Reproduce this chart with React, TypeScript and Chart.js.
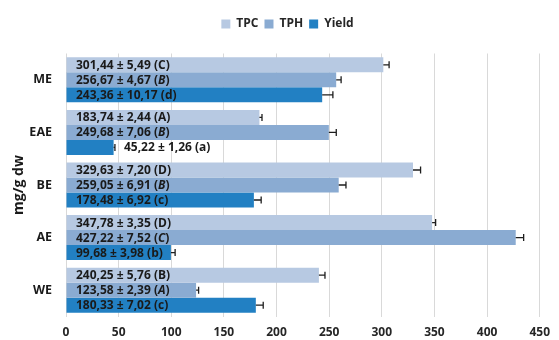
import React, { useEffect, useRef } from 'react';
import { Chart, registerables } from 'chart.js';

Chart.register(...registerables);

const categories = ['ME', 'EAE', 'BE', 'AE', 'WE'];

const tpcValues = [301.44, 183.74, 329.63, 347.78, 240.25];
const tpcErrors = [5.49, 2.44, 7.2, 3.35, 5.76];
const tpcLetters = ['C', 'A', 'D', 'D', 'B'];

const tphValues = [256.67, 249.68, 259.05, 427.22, 123.58];
const tphErrors = [4.67, 7.06, 6.91, 7.52, 2.39];
const tphLetters = ['B', 'B', 'B', 'C', 'A'];

const yieldValues = [243.36, 45.22, 178.48, 99.68, 180.33];
const yieldErrors = [10.17, 1.26, 6.92, 3.98, 7.02];
const yieldLetters = ['d', 'a', 'c', 'b', 'c'];

const seriesNames = ['TPC', 'TPH', 'Yield'];
const seriesColors = ['#b7c9e2', '#8aabd2', '#2280c3'];
const seriesItalicLetter = [false, true, false];

const xMin = 0;
const xMax = 450;
const xStep = 50;

const FONT = '"Open Sans"';
const errorsBySeries = [tpcErrors, tphErrors, yieldErrors];
const lettersBySeries = [tpcLetters, tphLetters, yieldLetters];

const fmt = (v: number) => v.toFixed(2).replace('.', ',');

const legendHeightPlugin = {
  id: 'legendHeight',
  beforeLayout(chart: any) {
    const lg = chart.legend;
    if (lg && !lg.__patched) {
      const orig = lg.fit;
      lg.fit = function () {
        orig.call(this);
        this.height = 41.5;
      };
      lg.__patched = true;
    }
  },
  afterLayout(chart: any) {
    const lg = chart.legend;
    if (lg) {
      lg.left += 9;
      lg.right += 9;
    }
  },
};

const errorLabelPlugin = {
  id: 'errorLabels',
  afterDatasetsDraw(chart: any) {
    const ctx = chart.ctx;
    const xs = chart.scales.x;
    const zero = xs.getPixelForValue(0);
    chart.data.datasets.forEach((ds: any, di: number) => {
      const meta = chart.getDatasetMeta(di);
      meta.data.forEach((bar: any, i: number) => {
        const v = ds.data[i] as number;
        const e = errorsBySeries[di][i];
        const x0 = bar.x;
        const x1 = xs.getPixelForValue(v + e);
        const y = bar.y;
        ctx.save();
        ctx.strokeStyle = '#1e1e1e';
        ctx.lineWidth = 1.3;
        ctx.beginPath();
        ctx.moveTo(x0, y);
        ctx.lineTo(x1, y);
        ctx.moveTo(x1, y - 3.5);
        ctx.lineTo(x1, y + 3.5);
        ctx.stroke();

        const parts = [
          { t: `${fmt(v)} ± ${fmt(e)} (`, it: false },
          { t: lettersBySeries[di][i], it: seriesItalicLetter[di] },
          { t: ')', it: false },
        ];
        const fontFor = (it: boolean) => `${it ? 'italic ' : ''}bold 12px ${FONT}`;
        let w = 0;
        parts.forEach((p) => {
          ctx.font = fontFor(p.it);
          w += ctx.measureText(p.t).width;
        });
        let sx = zero + 10;
        if (sx + w > x0 - 3) sx = x1 + 9;
        ctx.fillStyle = '#1a1a1a';
        ctx.textBaseline = 'middle';
        ctx.textAlign = 'left';
        parts.forEach((p) => {
          ctx.font = fontFor(p.it);
          ctx.fillText(p.t, sx, y + 0.5);
          sx += ctx.measureText(p.t).width;
        });
        ctx.restore();
      });
    });
  },
};

export default function App() {
  const ref = useRef<HTMLCanvasElement | null>(null);

  useEffect(() => {
    let chart: Chart | null = null;
    let cancelled = false;
    const make = () => {
      if (cancelled || !ref.current) return;
      chart = new Chart(ref.current, {
        type: 'bar',
        data: {
          labels: categories,
          datasets: [tpcValues, tphValues, yieldValues].map((vals, k) => ({
            label: seriesNames[k],
            data: vals,
            backgroundColor: seriesColors[k],
            borderWidth: 0,
            categoryPercentage: 0.855,
            barPercentage: 1,
          })),
        },
        options: {
          indexAxis: 'y',
          responsive: false,
          animation: false,
          layout: { padding: { left: 11, right: 13, top: 12, bottom: 0 } },
          plugins: {
            legend: {
              position: 'top',
              align: 'center',
              labels: {
                boxWidth: 9,
                boxHeight: 9,
                padding: 6,
                color: '#262626',
                font: { family: FONT, size: 12, weight: 'bold' },
              },
            },
            tooltip: { enabled: false },
          },
          scales: {
            x: {
              type: 'linear',
              min: xMin,
              max: xMax,
              ticks: {
                stepSize: xStep,
                padding: 9,
                color: '#262626',
                font: { family: FONT, size: 12, weight: 'bold' },
              },
              grid: { color: '#d9d9d9', lineWidth: 1, drawTicks: false },
              border: { display: false },
              afterFit: (s: any) => {
                s.height = 23.5;
              },
            },
            y: {
              ticks: {
                padding: 14,
                color: '#1a1a1a',
                font: { family: FONT, size: 12.5, weight: 'bold' },
              },
              grid: { display: false, drawTicks: false },
              border: { display: false },
              title: {
                display: true,
                text: 'mg/g dw',
                color: '#1a1a1a',
                font: { family: FONT, size: 14, weight: 'bold' },
                padding: { top: 0, bottom: 0 },
              },
              afterFit: (s: any) => {
                s.width = 55;
              },
            },
          },
        },
        plugins: [legendHeightPlugin, errorLabelPlugin],
      } as any);
    };
    const fonts: any = (document as any).fonts;
    if (fonts && fonts.load) {
      Promise.all([
        fonts.load(`bold 12px ${FONT}`),
        fonts.load(`italic bold 12px ${FONT}`),
      ]).then(make, make);
    } else {
      make();
    }
    return () => {
      cancelled = true;
      if (chart) chart.destroy();
    };
  }, []);

  return (
    <div style={{ position: 'fixed', left: 0, top: 0, width: 559, height: 340, background: '#fff' }}>
      <canvas ref={ref} width={559} height={340} style={{ display: 'block' }} />
    </div>
  );
}
